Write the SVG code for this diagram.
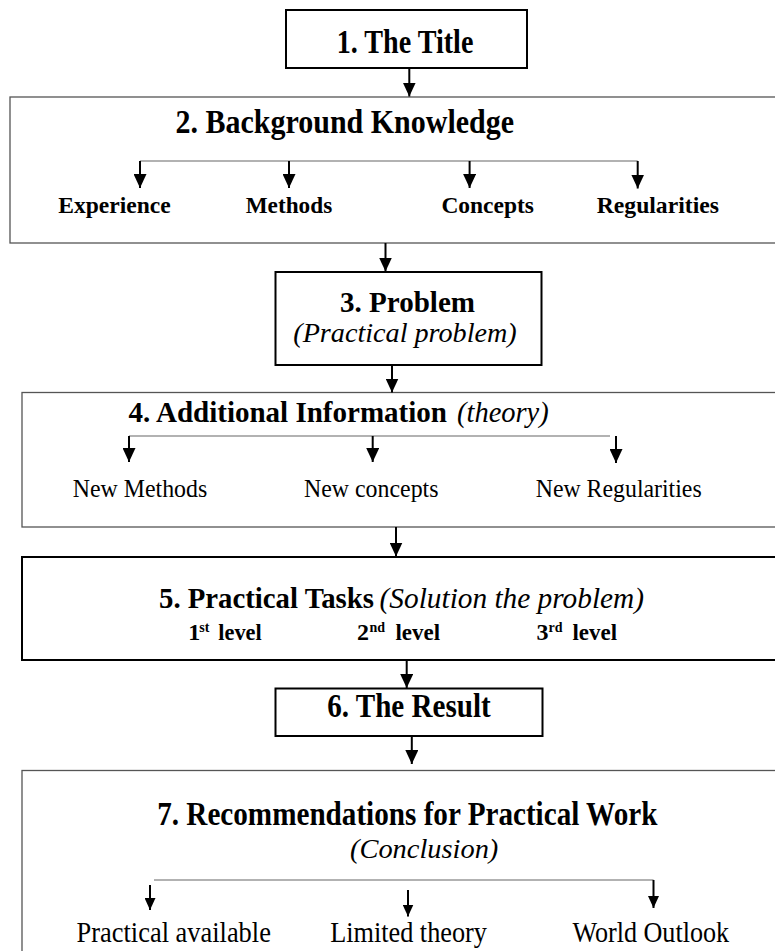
<svg xmlns="http://www.w3.org/2000/svg" width="775" height="951" viewBox="0 0 775 951">
  <defs>
    <marker id="head" viewBox="0 0 14 13" refX="14" refY="6.5" markerWidth="14" markerHeight="13" markerUnits="userSpaceOnUse" orient="auto">
      <path d="M0,0 L14,6.5 L0,13 z" fill="#000"/>
    </marker>
    <marker id="head-s" viewBox="0 0 12 11" refX="12" refY="5.5" markerWidth="12" markerHeight="11" markerUnits="userSpaceOnUse" orient="auto">
      <path d="M0,0 L12,5.5 L0,11 z" fill="#000"/>
    </marker>
    <style>
      .box-strong { fill: #fff; stroke: #000; stroke-width: 2; }
      .box-light { fill: #fff; stroke: #555; stroke-width: 1.3; }
      .t { font-family: "Liberation Serif", "Times New Roman", serif; fill: #000; }
      .b { font-weight: bold; }
      .i { font-style: italic; }
      .flow { stroke: #000; stroke-width: 2; fill: none; marker-end: url(#head); }
      .drop { stroke: #000; stroke-width: 2; fill: none; marker-end: url(#head); }
      .drop-s { stroke: #000; stroke-width: 2; fill: none; marker-end: url(#head-s); }
      .bus { stroke: #666; stroke-width: 1.2; fill: none; }
    </style>
  </defs>

  <!-- 1. Title -->
  <g id="n1-title">
    <rect class="box-strong" x="286" y="10" width="241" height="58"/>
    <text class="t b" x="336.7" y="53" font-size="33" textLength="136.7" lengthAdjust="spacingAndGlyphs">1. The Title</text>
  </g>

  <!-- 2. Background knowledge -->
  <g id="n2-background">
    <rect class="box-light" x="10" y="97" width="790" height="146"/>
    <text class="t b" x="175.5" y="133" font-size="34" textLength="338.5" lengthAdjust="spacingAndGlyphs">2. Background Knowledge</text>
    <text class="t b" x="58.3" y="213" font-size="24" textLength="112.4" lengthAdjust="spacingAndGlyphs">Experience</text>
    <text class="t b" x="245.7" y="213" font-size="24" textLength="86.5" lengthAdjust="spacingAndGlyphs">Methods</text>
    <text class="t b" x="441.4" y="213" font-size="24" textLength="92.5" lengthAdjust="spacingAndGlyphs">Concepts</text>
    <text class="t b" x="596.7" y="213" font-size="24" textLength="122.3" lengthAdjust="spacingAndGlyphs">Regularities</text>
  </g>

  <!-- 3. Problem -->
  <g id="n3-problem">
    <rect class="box-strong" x="275.5" y="272" width="266" height="93"/>
    <text class="t b" x="340" y="312.3" font-size="30" textLength="135" lengthAdjust="spacingAndGlyphs">3. Problem</text>
    <text class="t i" x="293.3" y="341.7" font-size="28" textLength="223.4" lengthAdjust="spacingAndGlyphs">(Practical problem)</text>
  </g>

  <!-- 4. Additional information -->
  <g id="n4-additional">
    <rect class="box-light" x="22" y="392.5" width="778" height="134.5"/>
    <text class="t b" x="128.5" y="421.7" font-size="30" textLength="318.5" lengthAdjust="spacingAndGlyphs">4. Additional Information</text>
    <text class="t i" x="457" y="421.7" font-size="30" textLength="91.7" lengthAdjust="spacingAndGlyphs">(theory)</text>
    <text class="t" x="72.7" y="497.3" font-size="26" textLength="134.6" lengthAdjust="spacingAndGlyphs">New Methods</text>
    <text class="t" x="304" y="497.3" font-size="26" textLength="134.5" lengthAdjust="spacingAndGlyphs">New concepts</text>
    <text class="t" x="535.7" y="497.3" font-size="26" textLength="166" lengthAdjust="spacingAndGlyphs">New Regularities</text>
  </g>

  <!-- 5. Practical tasks -->
  <g id="n5-tasks">
    <rect class="box-strong" x="22" y="557" width="778" height="103"/>
    <text class="t b" x="159" y="608.3" font-size="30" textLength="215" lengthAdjust="spacingAndGlyphs">5. Practical Tasks</text>
    <text class="t i" x="379.6" y="608.3" font-size="30" textLength="264.4" lengthAdjust="spacingAndGlyphs">(Solution the problem)</text>
    <text class="t b" font-size="24">
      <tspan x="188.3" y="640">1</tspan><tspan x="199.3" y="632" font-size="14">st</tspan><tspan x="218.3" y="640" textLength="43.4" lengthAdjust="spacingAndGlyphs">level</tspan>
    </text>
    <text class="t b" font-size="24">
      <tspan x="357" y="640">2</tspan><tspan x="369.5" y="632" font-size="14">nd</tspan><tspan x="395.5" y="640" textLength="44.5" lengthAdjust="spacingAndGlyphs">level</tspan>
    </text>
    <text class="t b" font-size="24">
      <tspan x="536.5" y="640">3</tspan><tspan x="548.5" y="632" font-size="14">rd</tspan><tspan x="572.5" y="640" textLength="44.5" lengthAdjust="spacingAndGlyphs">level</tspan>
    </text>
  </g>

  <!-- 6. Result -->
  <g id="n6-result">
    <rect class="box-strong" x="275.5" y="688.5" width="267" height="47.5"/>
    <text class="t b" x="327.2" y="716.7" font-size="33" textLength="163.6" lengthAdjust="spacingAndGlyphs">6. The Result</text>
  </g>

  <!-- 7. Recommendations -->
  <g id="n7-recommendations">
    <rect class="box-light" x="22" y="770.5" width="778" height="200"/>
    <text class="t b" x="157.2" y="825" font-size="34" textLength="500.2" lengthAdjust="spacingAndGlyphs">7. Recommendations for Practical Work</text>
    <text class="t i" x="350" y="858.3" font-size="28" textLength="148.3" lengthAdjust="spacingAndGlyphs">(Conclusion)</text>
    <text class="t" x="76.6" y="941.7" font-size="30" textLength="194.3" lengthAdjust="spacingAndGlyphs">Practical available</text>
    <text class="t" x="330.2" y="941.7" font-size="30" textLength="156.7" lengthAdjust="spacingAndGlyphs">Limited theory</text>
    <text class="t" x="572.4" y="941.7" font-size="30" textLength="156.7" lengthAdjust="spacingAndGlyphs">World Outlook</text>
  </g>

  <!-- connectors -->
  <g id="connectors">
    <!-- main flow -->
    <line class="flow" x1="409.3" y1="68" x2="409.3" y2="96.5"/>
    <line class="flow" x1="385.5" y1="243" x2="385.5" y2="271.5"/>
    <line class="flow" x1="392" y1="365" x2="392" y2="392.5"/>
    <line class="flow" x1="396" y1="527" x2="396" y2="556.5"/>
    <line class="flow" x1="406.7" y1="660" x2="406.7" y2="688"/>
    <line class="flow" x1="411.8" y1="736" x2="411.8" y2="764"/>

    <!-- background knowledge branches -->
    <line class="bus" x1="140" y1="161" x2="637.7" y2="161"/>
    <line class="drop" x1="140" y1="161" x2="140" y2="188"/>
    <line class="drop" x1="289" y1="161" x2="289" y2="188"/>
    <line class="drop" x1="469.6" y1="161" x2="469.6" y2="188"/>
    <line class="drop" x1="637.7" y1="161" x2="637.7" y2="188.5"/>

    <!-- additional information branches -->
    <line class="bus" x1="129" y1="436" x2="610" y2="436"/>
    <line class="drop" x1="129" y1="436" x2="129" y2="462"/>
    <line class="drop" x1="372.7" y1="436" x2="372.7" y2="462"/>
    <line class="drop" x1="616" y1="436" x2="616" y2="463"/>

    <!-- recommendation branches -->
    <line class="bus" x1="154" y1="880" x2="653.5" y2="880"/>
    <line class="drop-s" x1="150" y1="885" x2="150" y2="910"/>
    <line class="drop-s" x1="408" y1="890" x2="408" y2="916.5"/>
    <line class="drop-s" x1="653.5" y1="880" x2="653.5" y2="908"/>
  </g>
</svg>
